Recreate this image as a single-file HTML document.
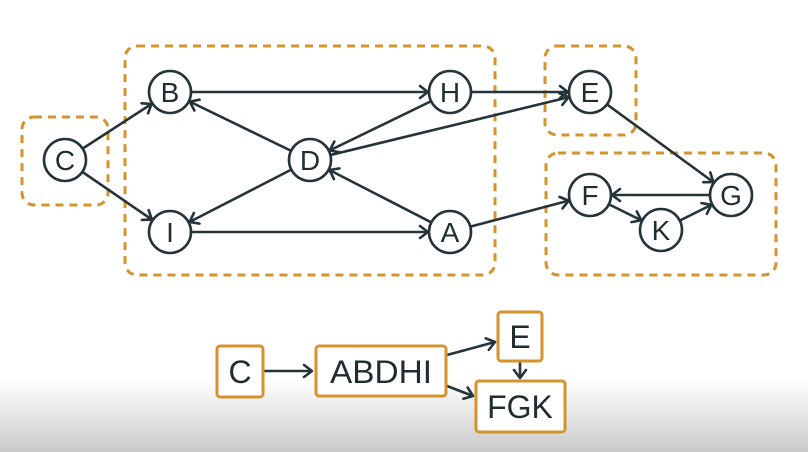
<!DOCTYPE html>
<html><head><meta charset="utf-8"><style>
html,body{margin:0;padding:0;width:808px;height:452px;overflow:hidden;background:#fff}
svg{display:block}
text{font-family:"Liberation Sans",sans-serif;fill:#1f2d30}
</style></head><body>
<svg width="808" height="452" viewBox="0 0 808 452" xmlns="http://www.w3.org/2000/svg">
<defs>
<linearGradient id="bg" x1="0" y1="0" x2="0" y2="1">
<stop offset="0" stop-color="#fff"/><stop offset="0.84" stop-color="#fff"/><stop offset="1" stop-color="#cacaca"/>
</linearGradient>
<marker id="a" markerUnits="userSpaceOnUse" markerWidth="60" markerHeight="20" viewBox="0 0 60 20" refX="53" refY="10" orient="auto" overflow="visible">
<path d="M23,4 L31,10 L23,16" fill="none" stroke="#24343a" stroke-width="2.6" stroke-linecap="round" stroke-linejoin="round"/>
</marker>
<marker id="b" markerUnits="userSpaceOnUse" markerWidth="20" markerHeight="20" viewBox="0 0 20 20" refX="11" refY="10" orient="auto" overflow="visible">
<path d="M3,4 L11,10 L3,16" fill="none" stroke="#24343a" stroke-width="2.6" stroke-linecap="round" stroke-linejoin="round"/>
</marker>
</defs>
<rect width="808" height="452" fill="url(#bg)"/>
<g fill="none" stroke="#d4932c" stroke-width="3" stroke-dasharray="8,6">
<rect x="22" y="117" width="86" height="88" rx="12"/>
<rect x="125" y="46" width="370" height="229" rx="12"/>
<rect x="545" y="46" width="91" height="89" rx="12"/>
<rect x="546" y="153" width="230" height="122" rx="12"/>
</g>
<g stroke="#24343a" stroke-width="2.6" marker-end="url(#a)">
<line x1="65" y1="160" x2="170" y2="92"/>
<line x1="65" y1="160" x2="170" y2="232"/>
<line x1="170" y1="92" x2="450" y2="92"/>
<line x1="310" y1="160" x2="170" y2="92"/>
<line x1="310" y1="160" x2="170" y2="232"/>
<line x1="450" y1="92" x2="310" y2="160"/>
<line x1="310" y1="160" x2="590" y2="92"/>
<line x1="450" y1="92" x2="590" y2="92"/>
<line x1="170" y1="232" x2="450" y2="232"/>
<line x1="450" y1="232" x2="310" y2="160"/>
<line x1="450" y1="232" x2="590" y2="195"/>
<line x1="590" y1="92" x2="731" y2="195"/>
<line x1="731" y1="195" x2="590" y2="195"/>
<line x1="590" y1="195" x2="661" y2="230"/>
<line x1="661" y1="230" x2="731" y2="195"/>
</g>
<g fill="#fff" stroke="#24343a" stroke-width="2.6">
<circle cx="65" cy="160" r="21"/><circle cx="170" cy="92" r="21"/><circle cx="170" cy="232" r="21"/>
<circle cx="310" cy="160" r="21"/><circle cx="450" cy="92" r="21"/><circle cx="450" cy="232" r="21"/>
<circle cx="590" cy="92" r="21"/><circle cx="590" cy="195" r="21"/><circle cx="661" cy="230" r="21"/><circle cx="731" cy="195" r="21"/>
</g>
<g font-size="28" text-anchor="middle">
<text x="65" y="170">C</text><text x="170" y="102">B</text><text x="170" y="242">I</text>
<text x="310" y="170">D</text><text x="450" y="102">H</text><text x="450" y="242">A</text>
<text x="590" y="102">E</text><text x="590" y="205">F</text><text x="661" y="240">K</text><text x="731" y="205">G</text>
</g>
<g stroke="#24343a" stroke-width="2.6" marker-end="url(#b)">
<line x1="264" y1="371" x2="312" y2="371"/>
<line x1="447" y1="355" x2="495" y2="342"/>
<line x1="447" y1="386" x2="473" y2="396"/>
<line x1="520" y1="362" x2="520" y2="378"/>
</g>
<g fill="#fff" stroke="#d4932c" stroke-width="3">
<rect x="217" y="346" width="46" height="51" rx="3"/>
<rect x="316" y="346" width="130" height="50" rx="3"/>
<rect x="498" y="312" width="44" height="49" rx="3"/>
<rect x="476" y="381" width="89" height="51" rx="3"/>
</g>
<g font-size="32" text-anchor="middle">
<text x="240" y="383">C</text>
<text x="381" y="383" textLength="102" lengthAdjust="spacingAndGlyphs">ABDHI</text>
<text x="520" y="348">E</text>
<text x="520" y="418">FGK</text>
</g>
</svg>
</body></html>
